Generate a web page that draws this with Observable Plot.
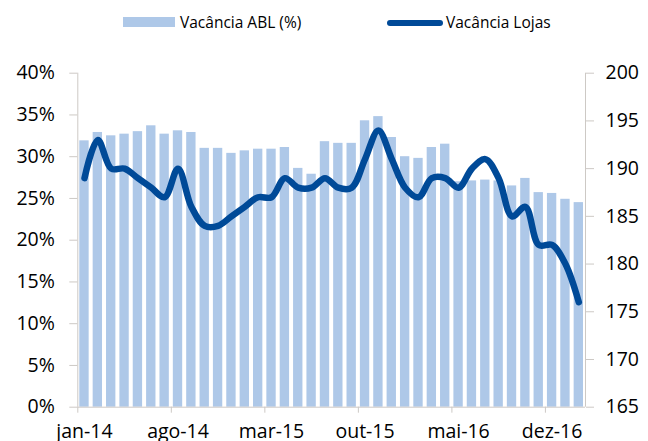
<!DOCTYPE html>
<html><head><meta charset="utf-8">
<script src="https://cdn.jsdelivr.net/npm/d3@7"></script>
<script src="https://cdn.jsdelivr.net/npm/@observablehq/plot@0.6"></script>
<style>
body{margin:0;background:#fff;font-family:"Open Sans",sans-serif;overflow:hidden;}
#legend{position:relative;height:40px;width:648px;}
#legend .sw{position:absolute;}
#legend .lb{position:absolute;font-size:15.5px;line-height:20px;color:#000;white-space:nowrap;}
</style></head><body>
<div id="legend">
  <div class="sw" style="left:123px;top:17px;width:52px;height:10px;background:#aec8e8"></div>
  <div class="lb" style="left:180px;top:12px">Vacância ABL (%)</div>
  <div class="sw" style="left:387px;top:20px;width:56px;height:6px;border-radius:3px;background:#004a98"></div>
  <div class="lb" style="left:446px;top:12px">Vacância Lojas</div>
</div>
<div id="chart"></div>
<script>
const months = ["jan-14","fev-14","mar-14","abr-14","mai-14","jun-14","jul-14","ago-14","set-14","out-14","nov-14","dez-14",
"jan-15","fev-15","mar-15","abr-15","mai-15","jun-15","jul-15","ago-15","set-15","out-15","nov-15","dez-15",
"jan-16","fev-16","mar-16","abr-16","mai-16","jun-16","jul-16","ago-16","set-16","out-16","nov-16","dez-16",
"jan-17","fev-17"];
const vacanciaABL = [31.9,32.9,32.5,32.7,33.0,33.7,32.7,33.1,32.9,31.0,31.0,30.4,
30.7,30.9,30.9,31.1,28.6,27.9,31.8,31.6,31.6,34.3,34.8,32.3,
30.0,29.8,31.1,31.5,27.0,27.1,27.2,27.1,26.5,27.4,25.7,25.6,24.9,24.5];
const vacanciaLojas = [189,193,190,190,189,188,187,190,186,184,184,185,
186,187,187,189,188,188,189,188,188,191,194,191,
188,187,189,189,188,190,191,189,185,186,182,182,180,176];
const leftTicks = [0,5,10,15,20,25,30,35,40];
const rightTicks = [165,170,175,180,185,190,195,200];
const labelMonths = ["jan-14","ago-14","mar-15","out-15","mai-16","dez-16"];

const rMin = 165, rMax = 200, lMax = 40;
const toLeft = v => (v - rMin) / (rMax - rMin) * lMax;
const fromLeft = y => Math.round(rMin + y * (rMax - rMin) / lMax);

const data = months.map((m, i) => ({i, m, abl: vacanciaABL[i], lojas: vacanciaLojas[i]}));
const labelIdx = labelMonths.map(m => months.indexOf(m));
const axisColor = "#cdc9c5";

const chart = Plot.plot({
  width: 648, height: 401,
  marginTop: 32.7, marginBottom: 34.3, marginLeft: 77.3, marginRight: 63,
  x: {type: "linear", domain: [0, months.length], axis: null},
  y: {domain: [0, lMax], axis: null},
  style: {fontFamily: "'Open Sans', sans-serif", fontSize: "19.5px", color: "#000", background: "#fff"},
  marks: [
    Plot.rectY(data, {x1: d => d.i + 0.15, x2: d => d.i + 0.85, y: "abl", fill: "#aec8e8"}),
    Plot.ruleX([0, months.length], {stroke: axisColor}),
    Plot.ruleY([0], {stroke: axisColor}),
    Plot.axisY({ticks: leftTicks, tickFormat: d => d + "%", tickSize: 8, tickPadding: 15, stroke: axisColor, fill: "#000", label: null}),
    Plot.axisY({anchor: "right", ticks: rightTicks.map(toLeft), tickFormat: d => String(fromLeft(d)), tickSize: 8, tickPadding: 12, stroke: axisColor, fill: "#000", label: null}),
    Plot.axisX({ticks: labelIdx, tickSize: 6, tickFormat: () => "", stroke: axisColor, label: null}),
    Plot.axisX({ticks: labelIdx.map(i => i + 0.5), tickSize: 0, tickPadding: 17, tickFormat: d => months[Math.round(d - 0.5)], fill: "#000", label: null}),
    Plot.line(data, {x: d => d.i + 0.5, y: d => toLeft(d.lojas), stroke: "#004a98", strokeWidth: 6.5, curve: "catmull-rom", strokeLinecap: "round", strokeLinejoin: "round"})
  ]
});
document.getElementById("chart").appendChild(chart);
</script>
</body></html>
